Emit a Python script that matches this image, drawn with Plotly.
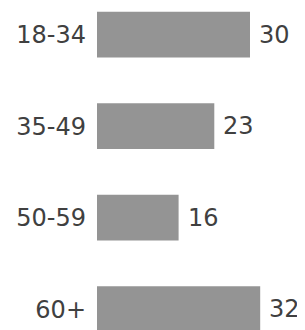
import plotly.graph_objects as go

categories = ["18-34", "35-49", "50-59", "60+"]
values = [30, 23, 16, 32]

bar_color = "#949494"
text_color = "#404040"

fig = go.Figure(
    go.Bar(
        x=values,
        y=categories,
        orientation="h",
        marker=dict(color=bar_color, line=dict(width=0)),
        hoverinfo="skip",
    )
)

for c, v in zip(categories, values):
    fig.add_annotation(
        x=v, y=c, text=str(v), showarrow=False,
        xanchor="left", yanchor="middle", xshift=7,
        font=dict(family="DejaVu Sans", size=24, color=text_color),
    )

fig.update_layout(
    width=297, height=322,
    margin=dict(l=89, r=4, t=0, b=0),
    paper_bgcolor="white", plot_bgcolor="white",
    bargap=0.5,
    showlegend=False,
    font=dict(family="DejaVu Sans", size=24, color=text_color),
    xaxis=dict(range=[0, 40], visible=False, fixedrange=True),
    yaxis=dict(
        type="category",
        range=[3.227, -0.292],
        showgrid=False, zeroline=False, showline=False,
        ticks="", ticklabelstandoff=10,
        tickfont=dict(family="DejaVu Sans", size=24, color=text_color),
        fixedrange=True,
    ),
)

fig.write_html("out.html", config={"displayModeBar": False})
